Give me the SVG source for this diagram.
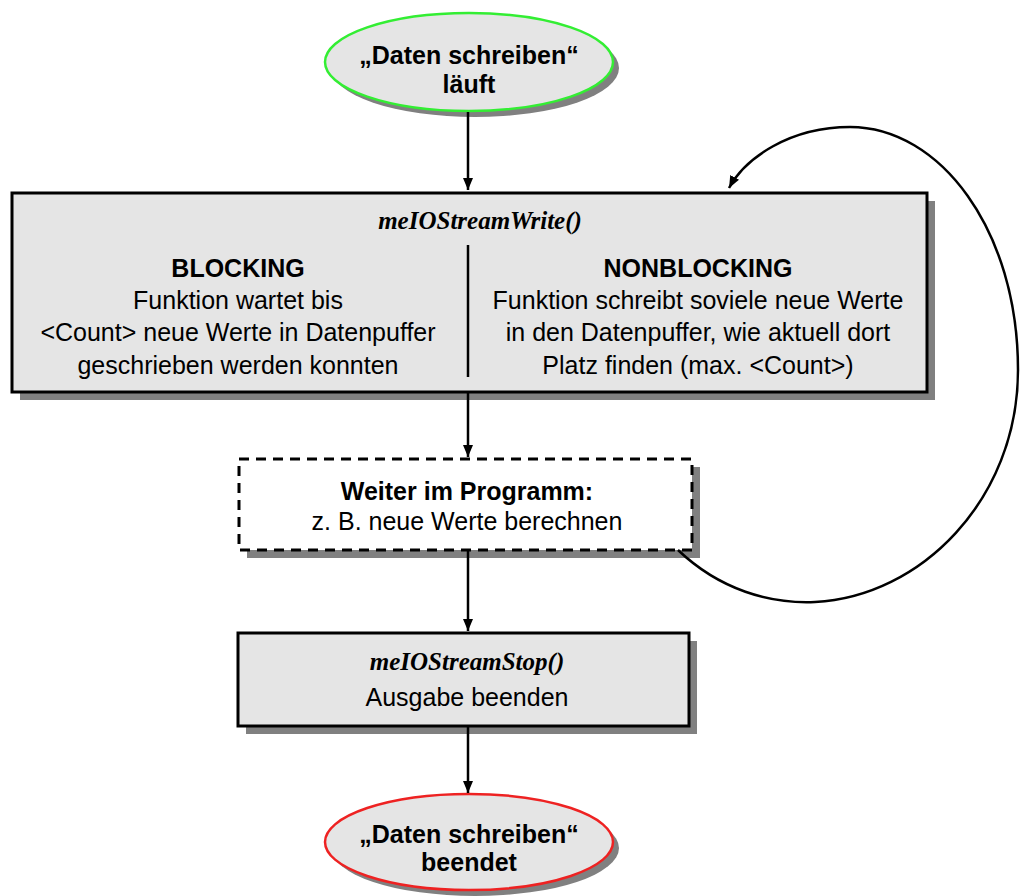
<svg xmlns="http://www.w3.org/2000/svg" width="1020" height="896" viewBox="0 0 1020 896">
  <defs>
    <marker id="arrow" viewBox="0 0 12 10" refX="12" refY="5" markerWidth="12" markerHeight="10" markerUnits="userSpaceOnUse" orient="auto">
      <path d="M0,0 L12,5 L0,10 Z" fill="#000"/>
    </marker>
  </defs>
  <style>
    .shadow { fill: #808080; }
    .box { fill: #e5e5e5; stroke: #000; stroke-width: 3; }
    .dash { fill: #fff; stroke: #000; stroke-width: 3; stroke-dasharray: 10 7; }
    .txt { font-family: "Liberation Sans", Arial, sans-serif; font-size: 25px; fill: #000; text-anchor: middle; }
    .bold { font-weight: bold; }
    .fn { font-family: "Liberation Serif", "Times New Roman", serif; font-size: 25px; font-weight: bold; font-style: italic; text-anchor: middle; fill: #000; }
    .big { font-family: "Liberation Sans", Arial, sans-serif; font-size: 25px; font-weight: bold; text-anchor: middle; fill: #000; }
    .conn { fill: none; stroke: #000; stroke-width: 2.5; }
  </style>

  <!-- start state -->
  <g id="start">
    <ellipse class="shadow" cx="475" cy="68" rx="144" ry="49"/>
    <ellipse cx="469" cy="62" rx="144" ry="49" fill="#e5e5e5" stroke="#33ee33" stroke-width="2.5"/>
    <text class="big" x="469" y="64">„Daten schreiben“</text>
    <text class="big" x="469" y="93">läuft</text>
  </g>

  <!-- write call with blocking / nonblocking modes -->
  <g id="write">
    <rect class="shadow" x="20" y="201" width="915" height="199"/>
    <rect class="box" x="12" y="193" width="915" height="199"/>
    <text class="fn" x="480" y="229">meIOStreamWrite()</text>
    <line x1="468" y1="245" x2="468" y2="377" stroke="#000" stroke-width="2.5"/>
    <text class="txt bold" x="238" y="277">BLOCKING</text>
    <text class="txt" x="238" y="309">Funktion wartet bis</text>
    <text class="txt" x="238" y="341">&lt;Count&gt; neue Werte in Datenpuffer</text>
    <text class="txt" x="238" y="374">geschrieben werden konnten</text>
    <text class="txt bold" x="698" y="277">NONBLOCKING</text>
    <text class="txt" x="698" y="309">Funktion schreibt soviele neue Werte</text>
    <text class="txt" x="698" y="341">in den Datenpuffer, wie aktuell dort</text>
    <text class="txt" x="698" y="374">Platz finden (max. &lt;Count&gt;)</text>
  </g>

  <!-- program continues -->
  <g id="continue">
    <rect class="shadow" x="247" y="467" width="453" height="91"/>
    <rect class="dash" x="239" y="459" width="453" height="91"/>
    <text class="txt bold" x="467" y="500">Weiter im Programm:</text>
    <text class="txt" x="467" y="530">z. B. neue Werte berechnen</text>
  </g>

  <!-- stop call -->
  <g id="stop">
    <rect class="shadow" x="246" y="641" width="451" height="93"/>
    <rect class="box" x="238" y="633" width="451" height="93"/>
    <text class="fn" x="467" y="670">meIOStreamStop()</text>
    <text class="txt" x="467" y="706">Ausgabe beenden</text>
  </g>

  <!-- end state -->
  <g id="end">
    <ellipse class="shadow" cx="475" cy="848" rx="144" ry="48"/>
    <ellipse cx="469" cy="842" rx="144" ry="48" fill="#e5e5e5" stroke="#ee2222" stroke-width="2.5"/>
    <text class="big" x="469" y="843" font-size="24">„Daten schreiben“</text>
    <text class="big" x="469" y="871" font-size="24">beendet</text>
  </g>

  <!-- connectors -->
  <g id="connectors">
    <line class="conn" x1="468" y1="112" x2="468" y2="190" marker-end="url(#arrow)"/>
    <line class="conn" x1="468" y1="393" x2="468" y2="457" marker-end="url(#arrow)"/>
    <line class="conn" x1="468" y1="551" x2="468" y2="631" marker-end="url(#arrow)"/>
    <line class="conn" x1="468" y1="727" x2="468" y2="793" marker-end="url(#arrow)"/>
    <path class="conn" d="M678,550 C720,590 770,604 815,602 C920,597 1018,500 1018,370 C1018,230 940,127 850,127 C790,127 745,158 729,188" marker-end="url(#arrow)"/>
  </g>
</svg>
